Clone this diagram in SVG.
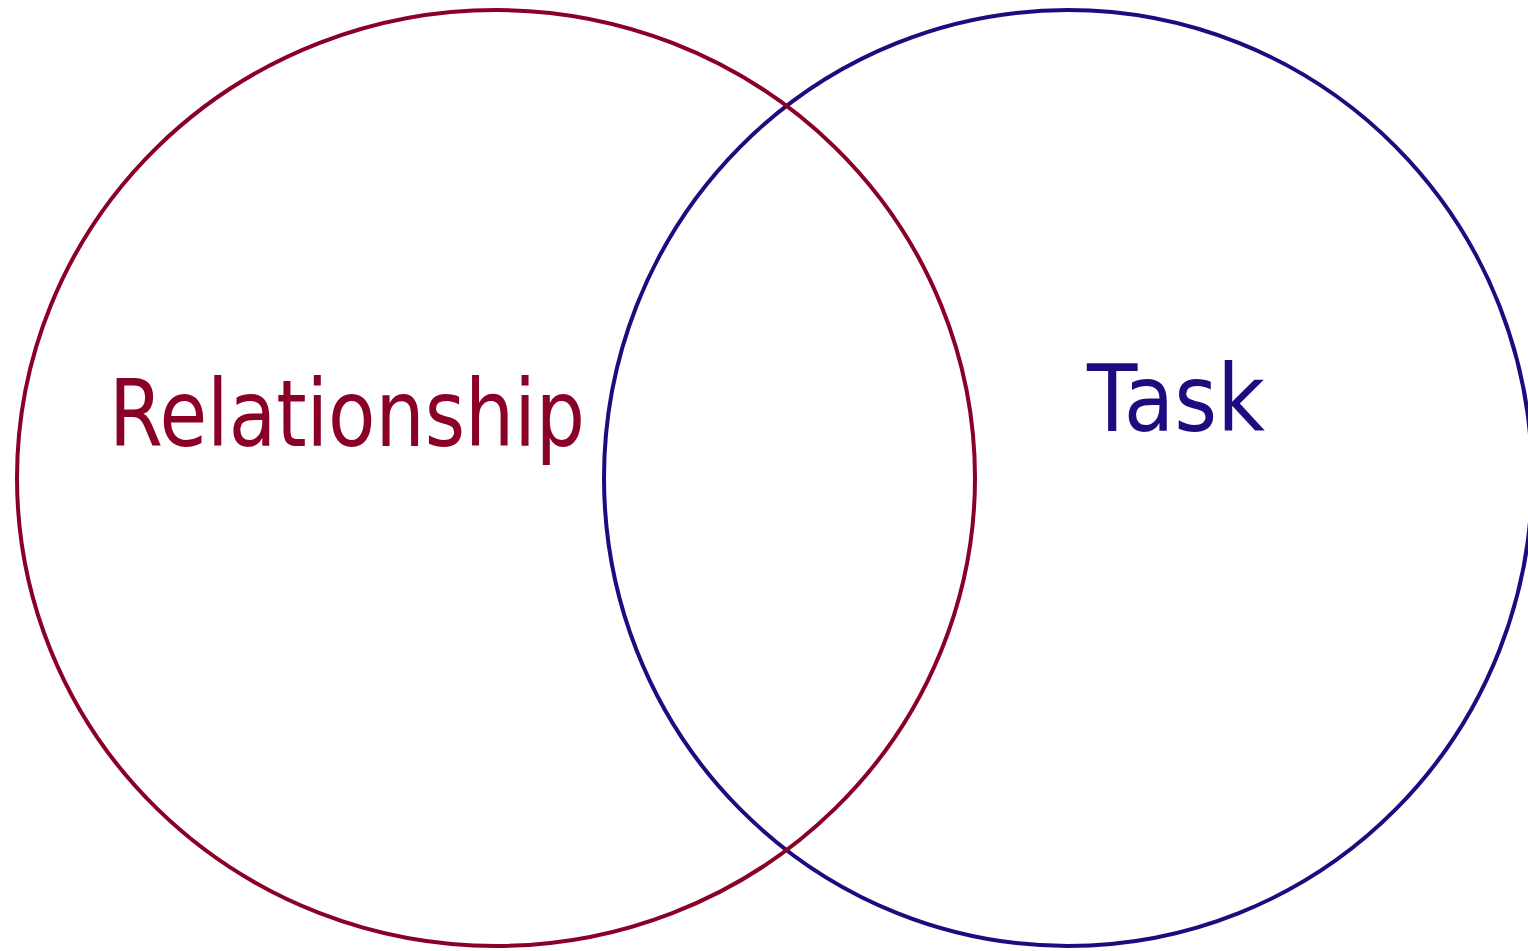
<svg xmlns="http://www.w3.org/2000/svg" width="1528" height="951" viewBox="0 0 1528 951">
<style>
.ring{fill:none;stroke-width:4}
.lbl{font-family:"DejaVu Sans","Liberation Sans",sans-serif;}
</style>
<rect width="1528" height="951" fill="#ffffff"/>
<g id="task">
<ellipse class="ring" cx="1068" cy="478" rx="464" ry="468" stroke="#1f0a80"/>
<text class="lbl" x="1087" y="431" font-size="92" fill="#1f0a80" textLength="178" lengthAdjust="spacingAndGlyphs">Task</text>
</g>
<g id="relationship">
<ellipse class="ring" cx="496" cy="478" rx="479" ry="468" stroke="#8b0026"/>
<text class="lbl" x="109" y="446" font-size="93" fill="#8b0026" textLength="476" lengthAdjust="spacingAndGlyphs">Relationship</text>
</g>
<g id="connectors"></g>
</svg>
